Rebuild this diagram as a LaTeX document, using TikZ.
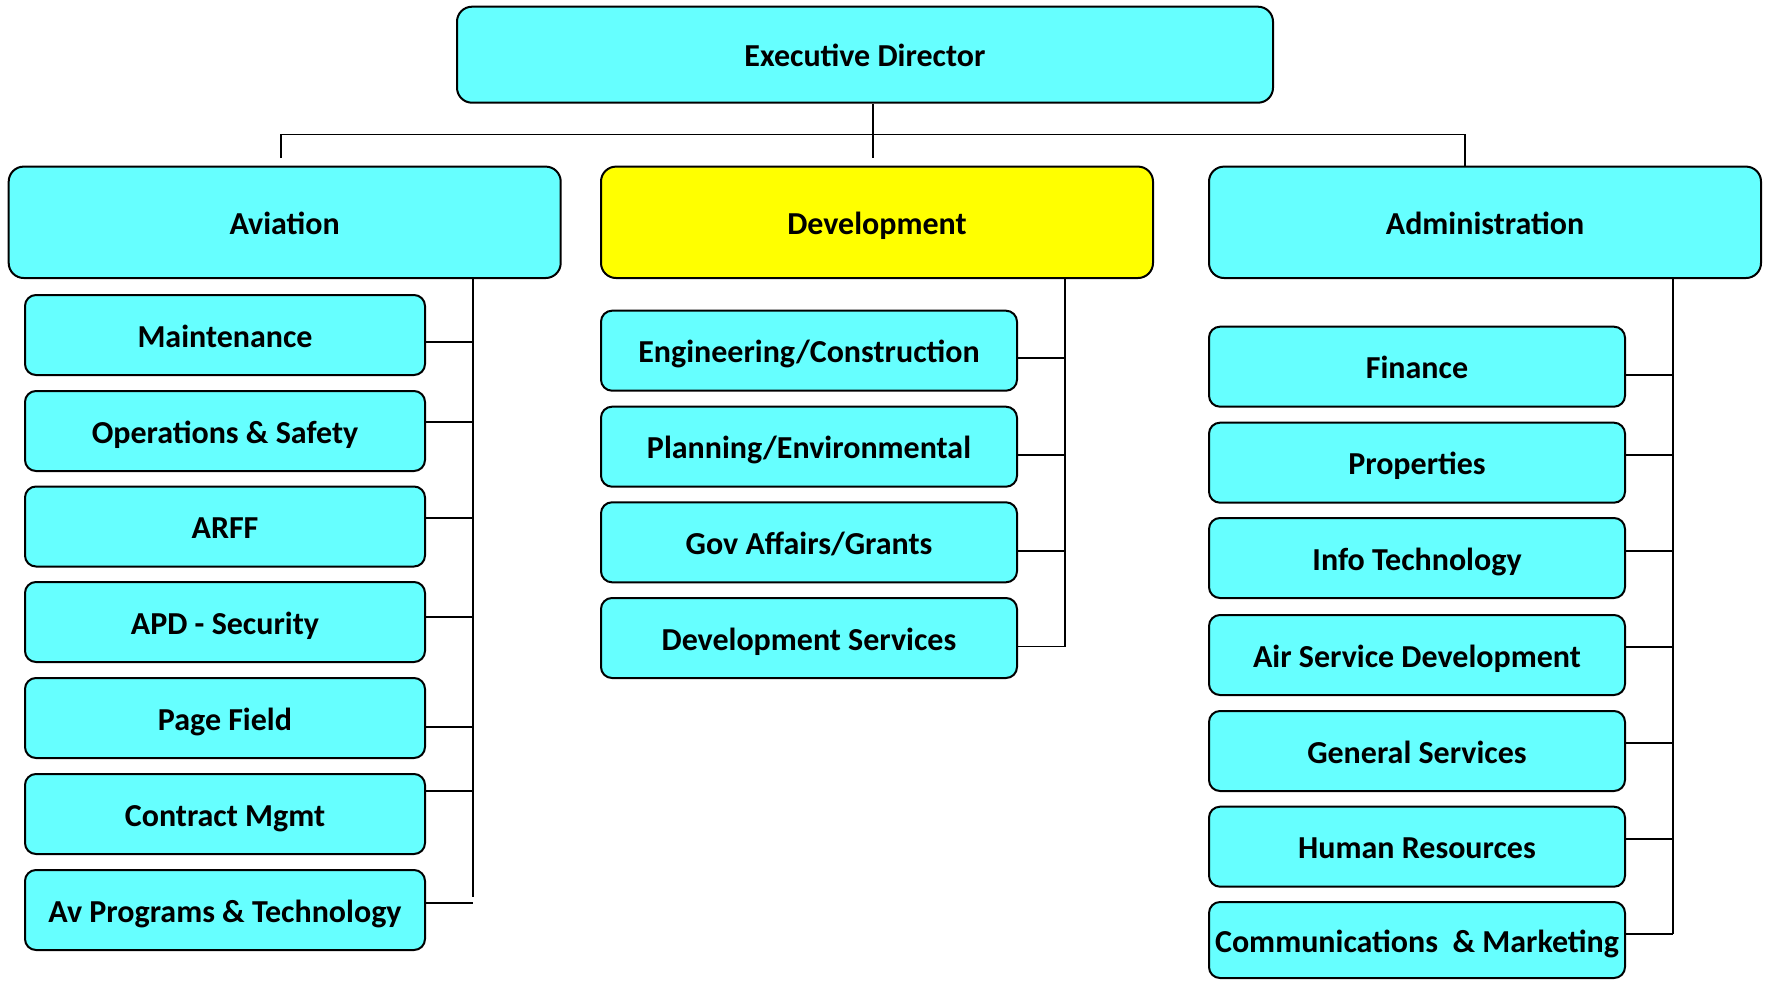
\documentclass[tikz,border=0pt]{standalone}
\usepackage{fontspec}
\setmainfont{Carlito}
\definecolor{cyanbox}{HTML}{66FFFF}
\definecolor{yelbox}{HTML}{FFFF00}
\newcommand\ctr[1]{\makebox[0pt]{#1}}
\begin{document}
\begin{tikzpicture}[x=0.5pt,y=-0.5pt,
  basebox/.style={draw=black, line width=1pt, fill=cyanbox, inner sep=0pt,
    font=\fontsize{16}{18}\selectfont\bfseries, text height=12.2pt, text depth=0pt},
  bigbox/.style={basebox, rounded corners=7.5pt, minimum width=276pt, minimum height=55.7pt},
  smallbox/.style={basebox, rounded corners=5.5pt, minimum width=208pt, minimum height=40pt},
  avbox/.style={smallbox, minimum width=200pt},
  conn/.style={draw=black, line width=0.9pt}]
\useasboundingbox (0,0) rectangle (1766,980);

% top level
\node[bigbox, minimum width=408pt, minimum height=48pt] (exec) at (865,54.7) {\ctr{Executive Director}};
\node[bigbox] (avi) at (284.7,222.3) {\ctr{Aviation}};
\node[bigbox, fill=yelbox] (dev) at (877,222.3) {\ctr{Development}};
\node[bigbox] (adm) at (1485,222.3) {\ctr{Administration}};

% aviation children
\node[avbox] (a1) at (225,335) {\ctr{Maintenance}};
\node[avbox] (a2) at (225,431) {\ctr{Operations \& Safety}};
\node[avbox] (a3) at (225,526.5) {\ctr{ARFF}};
\node[avbox] (a4) at (225,622) {\ctr{APD - Security}};
\node[avbox] (a5) at (225,718) {\ctr{Page Field}};
\node[avbox] (a6) at (225,814) {\ctr{Contract Mgmt}};
\node[avbox] (a7) at (225,910) {\ctr{Av Programs \& Technology}};

% development children
\node[smallbox] (d1) at (809,350.7) {\ctr{Engineering/Construction}};
\node[smallbox] (d2) at (809,446.7) {\ctr{Planning/Environmental}};
\node[smallbox] (d3) at (809,542.3) {\ctr{Gov Affairs/Grants}};
\node[smallbox] (d4) at (809,638) {\ctr{Development Services}};

% administration children
\node[smallbox] (f1) at (1417,366.7) {\ctr{Finance}};
\node[smallbox] (f2) at (1417,462.7) {\ctr{Properties}};
\node[smallbox] (f3) at (1417,558) {\ctr{Info Technology}};
\node[smallbox] (f4) at (1417,655) {\ctr{Air Service Development}};
\node[smallbox] (f5) at (1417,751) {\ctr{General Services}};
\node[smallbox] (f6) at (1417,846.7) {\ctr{Human Resources}};
\node[smallbox, minimum height=38pt] (f7) at (1417,940) {\ctr{Communications\ \ \& Marketing}};

% top connectors
\coordinate (jC) at (873,134.5);
\coordinate (jL) at (281,134.5);
\coordinate (jR) at (1465,134.5);
\draw[conn] (exec.south -| jC) -- (jC |- 0,158);
\draw[conn] (jL |- 0,158) -- (jL) -- (jR) -- (adm.north -| jR);

% aviation trunk
\coordinate (avb) at (473,896.7);
\draw[conn] (avi.south -| avb) -- (avb);
\foreach \n/\y in {a1/342,a2/422,a3/518,a4/617,a5/726.7,a6/790.7,a7/902.7}
  \draw[conn] (\n.east |- 0,\y) -- (avb |- 0,\y);

% development trunk
\coordinate (dvb) at (1065,646.5);
\draw[conn] (dev.south -| dvb) -- (dvb);
\foreach \n/\y in {d1/358,d2/455,d3/550.8,d4/646.5}
  \draw[conn] (\n.east |- 0,\y) -- (dvb |- 0,\y);

% administration trunk
\coordinate (adb) at (1672.6,934);
\draw[conn] (adm.south -| adb) -- (adb);
\foreach \n/\y in {f1/375,f2/455,f3/550.8,f4/646.7,f5/742.7,f6/838.7,f7/934}
  \draw[conn] (\n.east |- 0,\y) -- (adb |- 0,\y);
\end{tikzpicture}
\end{document}
